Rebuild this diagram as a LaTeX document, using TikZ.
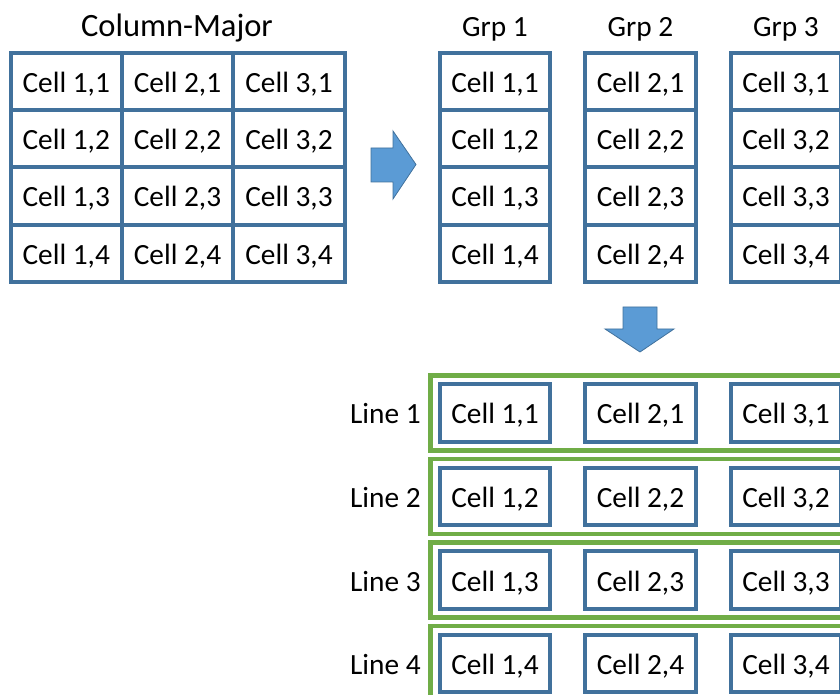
\documentclass[tikz,border=0pt]{standalone}
\usepackage{fontspec}
\setmainfont{Carlito}
\definecolor{cellblue}{HTML}{41719C}
\definecolor{arrowfill}{HTML}{5B9BD5}
\definecolor{linegreen}{HTML}{70AD47}
\tikzset{
  cellbox/.style={draw=cellblue, line width=3pt, fill=white, minimum width=83pt, minimum height=42.8pt, inner sep=0pt, font=\fontsize{22}{26}\selectfont, text height=18pt, text depth=1.5pt},
  lbl/.style={font=\fontsize{22}{26}\selectfont, inner sep=0pt},
  linelbl/.style={lbl, text height=18pt, text depth=1.5pt},
  linebox/.style={draw=linegreen, line width=3.2pt},
  blockarrow/.style={fill=arrowfill, draw=cellblue, line width=0.6pt}
}
\begin{document}
\begin{tikzpicture}[x=0.75pt,y=-0.75pt]
\useasboundingbox (0,0) rectangle (840,695);
\clip (0,0) rectangle (840,695);
% Column-major grid
\node[lbl, font=\fontsize{24.4}{28}\selectfont] (title) at (177,28) {Column-Major};
\foreach \c/\x in {1/66.25,2/177.5,3/289}{
  \foreach \r/\y in {1/81.2,2/138.6,3/196,4/253.4}{
    \node[cellbox, minimum width=83.5pt] (m\c\r) at (\x,\y) {Cell \c,\r};
  }
}
% right arrow
\draw[blockarrow] (371,148) -- (393,148) -- (393,131) -- (416,164.5) -- (393,199) -- (393,182) -- (371,182) -- cycle;
% groups
\foreach \c/\x in {1/495,2/640.5,3/786}{
  \node[lbl] (g\c) at (\x,29) {Grp \c};
  \foreach \r/\y in {1/81.2,2/138.6,3/196,4/253.4}{
    \node[cellbox] (gc\c\r) at (\x,\y) {Cell \c,\r};
  }
}
% down arrow
\draw[blockarrow] (623,307) -- (657,307) -- (657,329) -- (674,329) -- (640,352) -- (605,329) -- (623,329) -- cycle;
% lines
\foreach \r/\y in {1/413,2/496.5,3/580,4/663.5}{
  \draw[linebox] (430.5,\y-37.5) rectangle (880,\y+37.5);
  \node[linelbl, anchor=east] (l\r) at (421,\y) {Line \r};
  \foreach \c/\x in {1/495,2/640.5,3/786}{
    \node[cellbox] (lc\c\r) at (\x,\y) {Cell \c,\r};
  }
}
\end{tikzpicture}
\end{document}
